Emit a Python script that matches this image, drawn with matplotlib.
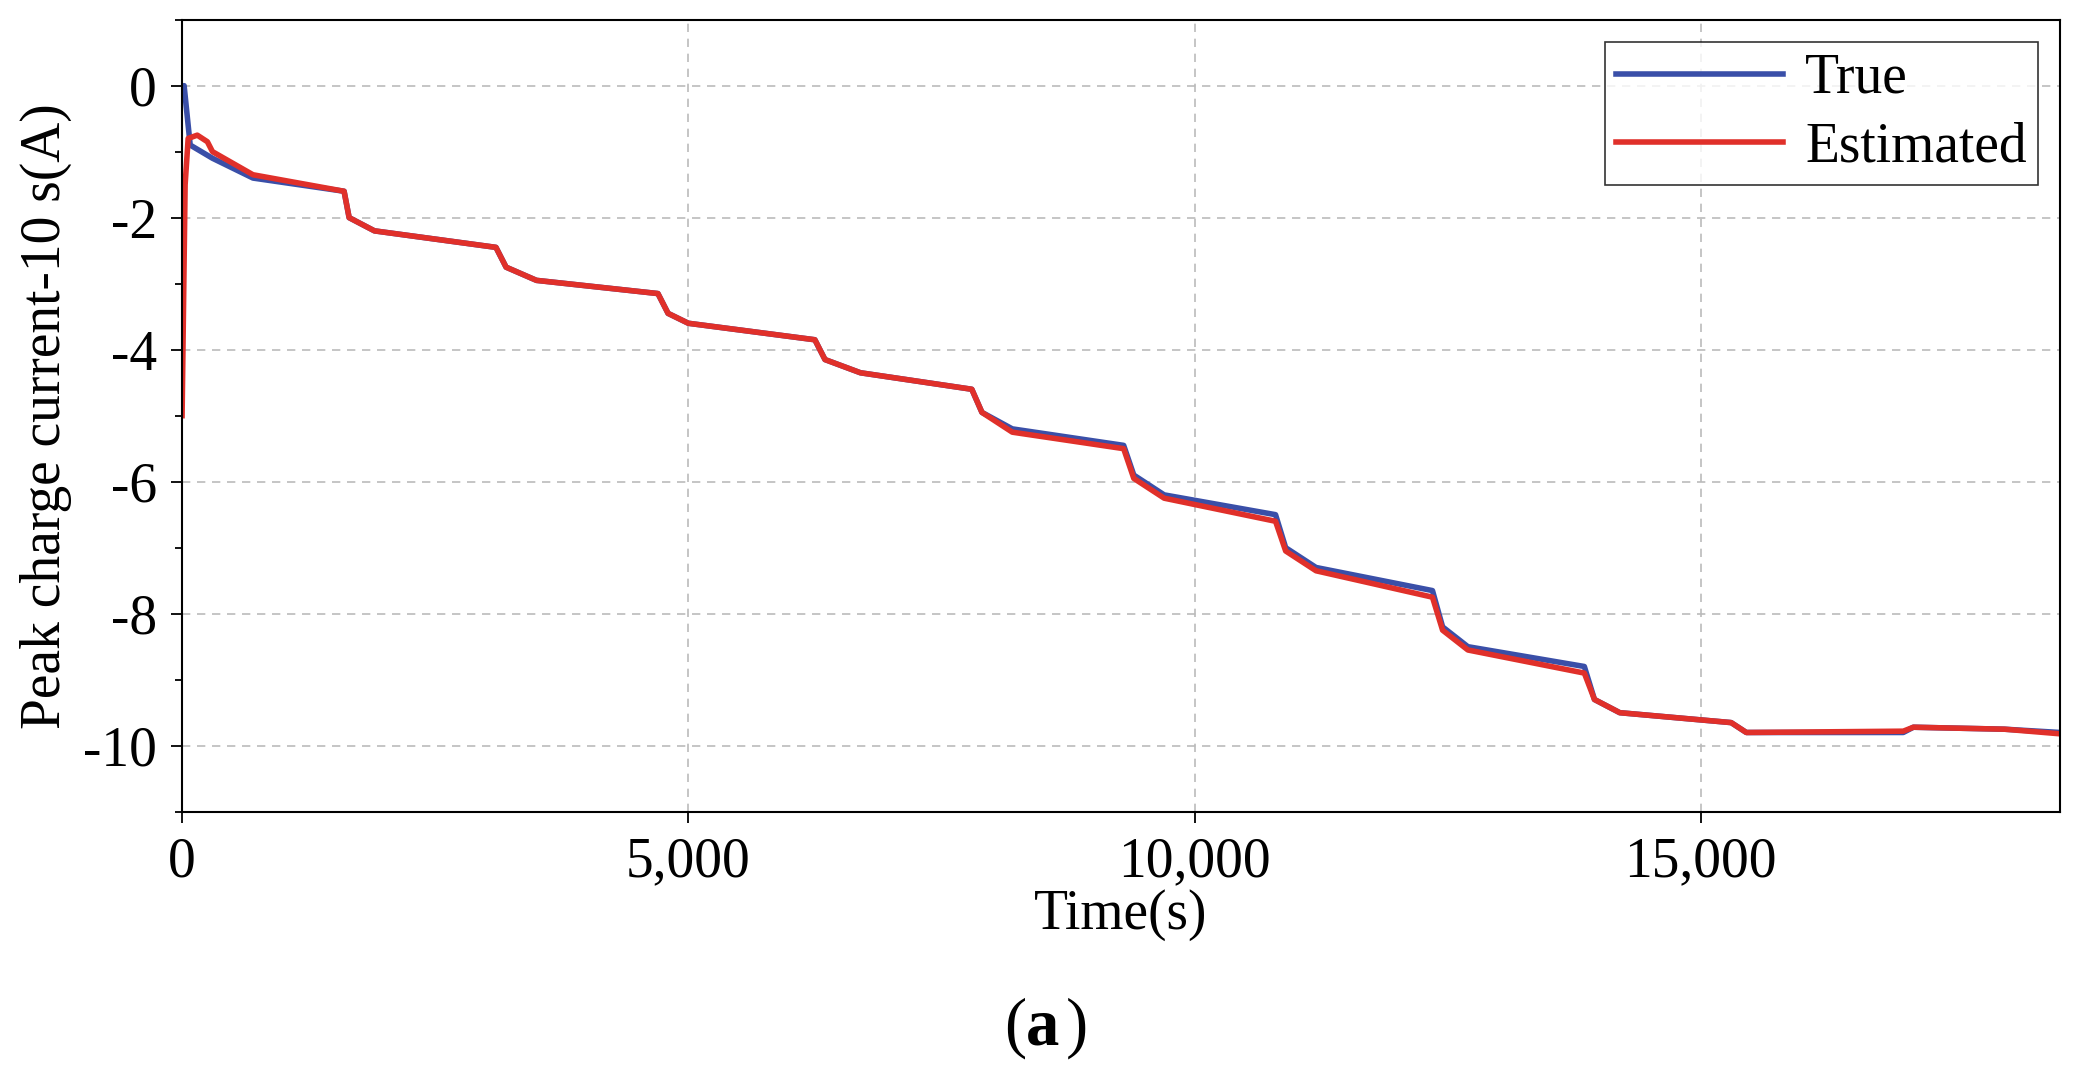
import matplotlib
matplotlib.use("Agg")
import matplotlib.pyplot as plt
from matplotlib.ticker import FuncFormatter, MultipleLocator

true_t = [0, 20, 80, 300, 700, 1600, 1650, 1900, 3100, 3200, 3500, 4700, 4800, 5000, 6250, 6350, 6700,
          7800, 7900, 8200, 9300, 9400, 9700, 10800, 10900, 11200, 12350, 12450, 12700, 13850, 13950,
          14200, 15300, 15450, 17000, 17100, 18000, 18550]
true_v = [-0.1, 0.0, -0.9, -1.1, -1.4, -1.6, -2.0, -2.2, -2.45, -2.75, -2.95, -3.15, -3.45, -3.6, -3.85,
          -4.15, -4.35, -4.6, -4.95, -5.2, -5.45, -5.9, -6.2, -6.5, -7.0, -7.3, -7.65, -8.2, -8.5, -8.8,
          -9.3, -9.5, -9.65, -9.8, -9.8, -9.72, -9.75, -9.8]
est_t = [0, 30, 60, 150, 250, 300, 700, 1600, 1650, 1900, 3100, 3200, 3500, 4700, 4800, 5000, 6250, 6350,
         6700, 7800, 7900, 8200, 9300, 9400, 9700, 10800, 10900, 11200, 12350, 12450, 12700, 13850, 13950,
         14200, 15300, 15450, 17000, 17100, 18000, 18550]
est_v = [-5.0, -1.5, -0.8, -0.75, -0.85, -1.0, -1.35, -1.6, -2.0, -2.2, -2.45, -2.75, -2.95, -3.15, -3.45,
         -3.6, -3.85, -4.15, -4.35, -4.6, -4.95, -5.25, -5.5, -5.95, -6.25, -6.6, -7.05, -7.35, -7.75, -8.25,
         -8.55, -8.9, -9.3, -9.5, -9.65, -9.8, -9.78, -9.72, -9.75, -9.82]

plt.rcParams['font.family'] = ['Liberation Serif', 'DejaVu Serif']
plt.rcParams['axes.unicode_minus'] = False
fig = plt.figure(figsize=(20.81, 10.91), dpi=100)
ax = fig.add_axes([0.0875, 0.256, 0.9025, 0.726])
ax.plot(true_t, true_v, color='#3a4fa8', lw=4, label='True')
ax.plot(est_t, est_v, color='#e0302a', lw=4, label='Estimated')
ax.set_xlim(0, 18550)
ax.set_ylim(-11, 1)
ax.set_xticks([0, 5000, 10000, 15000])
ax.xaxis.set_major_formatter(FuncFormatter(lambda v, p: f"{int(v):,}"))
ax.set_yticks([0, -2, -4, -6, -8, -10])
ax.yaxis.set_minor_locator(MultipleLocator(1))
ax.grid(True, color='#bbbbbb', ls=(0, (5, 4)), lw=1.2)
ax.tick_params(labelsize=40, length=8, width=1.3, pad=10)
ax.tick_params(which='minor', length=5, width=1.3)
for s in ax.spines.values():
    s.set_linewidth(1.5)
ax.set_xlabel('Time(s)', fontsize=40, labelpad=0)
ax.set_ylabel('Peak charge current-10 s(A)', fontsize=40, labelpad=8)
leg = ax.legend(loc='upper right', fontsize=40, frameon=True, fancybox=False, edgecolor='black',
                handlelength=3.0, borderaxespad=0.4, handletextpad=0.4, borderpad=0.2, labelspacing=0.3)
leg.get_frame().set_linewidth(1.2)
fig.text(0.493, 0.058, '(', fontsize=48, ha='right', va='center')
fig.text(0.493, 0.058, 'a', fontsize=48, ha='left', va='center', fontweight='bold')
fig.text(0.512, 0.058, ')', fontsize=48, ha='left', va='center')
fig.savefig('out.png')
